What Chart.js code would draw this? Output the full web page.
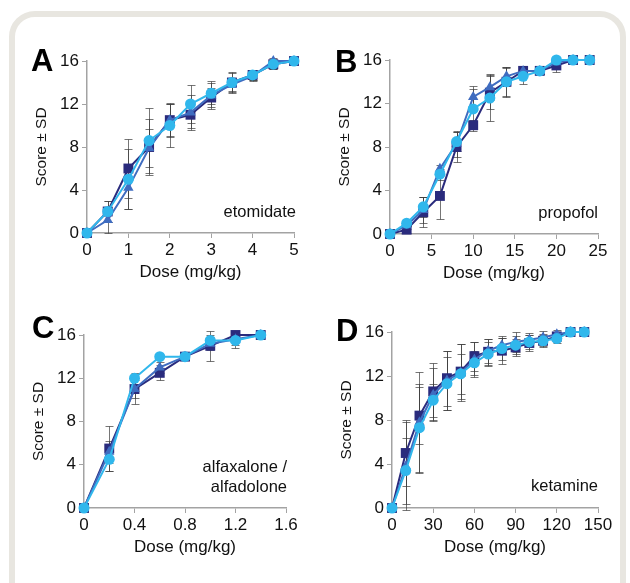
<!DOCTYPE html>
<html lang="en">
<head>
<meta charset="UTF-8">
<title>Anaesthetic dose response</title>
<script src="https://cdn.jsdelivr.net/npm/chart.js@4.4.1/dist/chart.umd.min.js"></script>
<style>
  body {
    margin: 0;
    width: 630px;
    height: 583px;
    overflow: hidden;
    background: #fff;
    position: relative;
    font-family: 'Liberation Sans', Arial, sans-serif;
    color: #111;
  }
  .frame {
    position: absolute;
    left: 9px;
    top: 11px;
    width: 617px;
    height: 640px;
    box-sizing: border-box;
    border: 6px solid #e8e6e0;
    border-radius: 26px;
  }
  canvas { position: absolute; }
  .letter { position: absolute; font-weight: bold; font-size: 31px; line-height: 31px; color: #000; }
  .drug { position: absolute; font-size: 16.5px; line-height: 20px; text-align: right; }
</style>
</head>
<body>
<div class="frame"></div>

<canvas id="chartA"></canvas>
<canvas id="chartB"></canvas>
<canvas id="chartC"></canvas>
<canvas id="chartD"></canvas>

<div class="letter" style="left:31px; top:45px;">A</div>
<div class="letter" style="left:335px; top:46px;">B</div>
<div class="letter" style="left:32px; top:312px;">C</div>
<div class="letter" style="left:336px; top:315px;">D</div>

<div class="drug" style="right:334px; top:201px;">etomidate</div>
<div class="drug" style="right:32px; top:202px;">propofol</div>
<div class="drug" style="right:343px; top:456px;">alfaxalone /<br>alfadolone</div>
<div class="drug" style="right:32px; top:475px;">ketamine</div>

<script>
// ---- data ----
const yTicks = [0, 4, 8, 12, 16];

// A: etomidate
const doseEto = [0, 0.5, 1, 1.5, 2, 2.5, 3, 3.5, 4, 4.5, 5];
const etoSq   = [0, 2, 6, 8, 10.5, 11, 12.6, 14, 14.7, 15.7, 16];
const etoTri  = [0, 1.2, 4.2, 7.9, 10.5, 11.2, 12.8, 13.8, 14.6, 16, 16];
const etoCi   = [0, 2, 5, 8.6, 10, 12, 13, 14, 14.7, 15.7, 16];
const etoSqSd  = [0, 1, 2.7, 2.6, 1.6, 1.2, 0.9, 1, 0.5, 0.4, 0];
const etoTriSd = [0, 1.2, 2, 1.8, 1.5, 1.6, 1.3, 0.6, 0.5, 0.3, 0];
const etoCiSd  = [0, 1, 2.8, 3, 2, 1.8, 1, 0.9, 0.5, 0.4, 0];
const xTicksEto = [0, 1, 2, 3, 4, 5];
const xLabelsEto = ['0', '1', '2', '3', '4', '5'];

// B: propofol
const doseProp = [0, 2, 4, 6, 8, 10, 12, 14, 16, 18, 20, 22, 24];
const propSq   = [0, 0.4, 2, 3.5, 8, 10, 13, 14, 15, 15, 15.5, 16, 16];
const propTri  = [0, 0.8, 2.2, 6, 8.3, 12.6, 13.5, 14.5, 15, 15, 15.8, 16, 16];
const propCi   = [0, 1, 2.5, 5.5, 8.5, 11.5, 12.5, 14, 14.5, 15, 16, 16, 16];
const propSqSd  = [0, 0.3, 1.4, 2.1, 1.4, 0.5, 1.5, 1.4, 0.4, 0.3, 0.6, 0, 0];
const propTriSd = [0, 0.3, 1.2, 0.3, 1.2, 1, 1.2, 0.9, 0.4, 0.3, 0.3, 0, 0];
const propCiSd  = [0, 0.3, 0.9, 0.5, 0.9, 1.8, 2.1, 1.3, 0.7, 0.3, 0.3, 0, 0];
const xTicksProp = [0, 5, 10, 15, 20, 25];
const xLabelsProp = ['0', '5', '10', '15', '20', '25'];

// C: alfaxalone / alfadolone
const doseAlfa = [0, 0.2, 0.4, 0.6, 0.8, 1.0, 1.2, 1.4];
const alfaSq   = [0, 5.5, 11, 12.5, 14, 15, 16, 16];
const alfaTri  = [0, 5.2, 11, 13, 14, 15.2, 15.6, 16];
const alfaCi   = [0, 4.5, 12, 14, 14, 15.5, 15.5, 16];
const alfaSqSd  = [0, 2.1, 1.4, 0.7, 0, 1.4, 0.3, 0];
const alfaTriSd = [0, 1, 0.8, 0.5, 0, 0.6, 0.5, 0];
const alfaCiSd  = [0, 1.1, 0.5, 0, 0, 0.5, 0.7, 0];
const xTicksAlfa = [0, 0.4, 0.8, 1.2, 1.6];
const xLabelsAlfa = ['0', '0.4', '0.8', '1.2', '1.6'];

// D: ketamine
const doseKet = [0, 10, 20, 30, 40, 50, 60, 70, 80, 90, 100, 110, 120, 130, 140];
const ketSq   = [0, 5, 8.4, 10.6, 11.8, 12.4, 13.8, 14.2, 14.3, 14.6, 15, 15.2, 15.6, 16, 16];
const ketTri  = [0, 3.8, 7.8, 10.3, 11.6, 12.3, 13.5, 14.3, 14.8, 15.1, 15.3, 15.5, 15.8, 16, 16];
const ketCi   = [0, 3.4, 7.3, 9.8, 11.3, 12.2, 13.2, 14, 14.5, 14.8, 15.1, 15.2, 15.4, 16, 16];
const ketSqSd  = [0, 3, 2.6, 2.6, 2.5, 2.5, 1.3, 1.2, 1.2, 0.8, 0.7, 0.5, 0.4, 0, 0];
const ketTriSd = [0, 4, 4.6, 2.4, 2.7, 2.6, 1.6, 1.1, 0.8, 0.9, 0.6, 0.6, 0.4, 0, 0];
const ketCiSd  = [0, 3, 4, 1.5, 2.4, 1.8, 1.1, 1.1, 1, 0.8, 0.6, 0.6, 0.4, 0, 0];
const xTicksKet = [0, 30, 60, 90, 120, 150];
const xLabelsKet = ['0', '30', '60', '90', '120', '150'];

// ---- styling ----
const FONT = "'Liberation Sans', Arial, sans-serif";
const AXIS = '#a3a3a3';
const TEXT = '#111';
const NAVY = '#2a2b7d';
const MID = '#3f6cc0';
const CYAN = '#30b7ec';

// draws SD whiskers under the markers, using the chart's own scales
const errorBars = {
    id: 'errorBars',
    beforeDatasetsDraw(chart) {
        const {ctx, scales: {x, y}} = chart;
        ctx.save();
        ctx.strokeStyle = 'rgba(60,60,60,0.7)';
        ctx.lineWidth = 1;
        chart.data.datasets.forEach(ds => {
            ds.data.forEach((p, i) => {
                const sd = ds.sd[i];
                if (!sd) return;
                const px = Math.round(x.getPixelForValue(p.x)) + 0.5;
                const top = Math.round(y.getPixelForValue(p.y + sd)) + 0.5;
                const bot = Math.round(y.getPixelForValue(p.y - sd)) + 0.5;
                ctx.beginPath();
                ctx.moveTo(px, top);
                ctx.lineTo(px, bot);
                ctx.moveTo(px - 4, top);
                ctx.lineTo(px + 4, top);
                ctx.moveTo(px - 4, bot);
                ctx.lineTo(px + 4, bot);
                ctx.stroke();
            });
        });
        ctx.restore();
    }
};

function series(doses, values, sd, color, style, radius, order) {
    return {
        data: doses.map((d, i) => ({x: d, y: values[i]})),
        sd,
        borderColor: color,
        backgroundColor: color,
        borderWidth: 2,
        tension: 0,
        pointStyle: style,
        pointRadius: radius,
        pointBorderWidth: 0,
        clip: false,
        order
    };
}

function panel(id, box, doses, sq, tri, ci, sds, xTicks, xLabels) {
    const canvas = document.getElementById(id);
    canvas.width = box.w;
    canvas.height = box.h;
    canvas.style.left = box.left + 'px';
    canvas.style.top = box.top + 'px';

    return new Chart(canvas, {
        type: 'line',
        data: {
            datasets: [
                series(doses, ci, sds[2], CYAN, 'circle', 5.5, 1),
                series(doses, tri, sds[1], MID, 'triangle', 6, 2),
                series(doses, sq, sds[0], NAVY, 'rect', 7, 3)
            ]
        },
        options: {
            responsive: false,
            animation: false,
            layout: {padding: {top: box.pt, right: box.pr, left: 0, bottom: 0}},
            plugins: {legend: {display: false}, tooltip: {enabled: false}},
            scales: {
                x: {
                    type: 'linear',
                    min: xTicks[0],
                    max: xTicks[xTicks.length - 1],
                    afterBuildTicks: s => { s.ticks = xTicks.map(v => ({value: v})); },
                    afterFit: s => { s.height = box.xh; },
                    grid: {drawOnChartArea: false, tickLength: 5, color: AXIS},
                    border: {color: AXIS, width: 1.5},
                    ticks: {
                        color: TEXT, padding: 2, maxRotation: 0,
                        font: {size: 17, family: FONT},
                        callback: (v, i) => xLabels[i]
                    },
                    title: {
                        display: true, text: 'Dose (mg/kg)', color: TEXT,
                        font: {size: 17, family: FONT},
                        padding: {top: 0, bottom: box.xh - 49.2}
                    }
                },
                y: {
                    min: 0,
                    max: 16,
                    afterBuildTicks: s => { s.ticks = yTicks.map(v => ({value: v})); },
                    afterFit: s => { s.width = box.yw; },
                    grid: {drawOnChartArea: false, tickLength: 5, color: AXIS},
                    border: {color: AXIS, width: 1.5},
                    ticks: {color: TEXT, padding: 3, font: {size: 17, family: FONT}},
                    title: {
                        display: true, text: 'Score ± SD', color: TEXT,
                        font: {size: 15.5, family: FONT},
                        padding: {top: box.yw - 55, bottom: 0}
                    }
                }
            }
        },
        plugins: [errorBars]
    });
}

panel('chartA', {left: 20, top: 40, w: 290, h: 250, pt: 21, pr: 16, yw: 67, xh: 57},
    doseEto, etoSq, etoTri, etoCi, [etoSqSd, etoTriSd, etoCiSd], xTicksEto, xLabelsEto);
panel('chartB', {left: 320, top: 40, w: 300, h: 250, pt: 20, pr: 22, yw: 70, xh: 56},
    doseProp, propSq, propTri, propCi, [propSqSd, propTriSd, propCiSd], xTicksProp, xLabelsProp);
panel('chartC', {left: 20, top: 310, w: 290, h: 255, pt: 25, pr: 24, yw: 64, xh: 57},
    doseAlfa, alfaSq, alfaTri, alfaCi, [alfaSqSd, alfaTriSd, alfaCiSd], xTicksAlfa, xLabelsAlfa);
panel('chartD', {left: 320, top: 310, w: 300, h: 255, pt: 22, pr: 22, yw: 72, xh: 57},
    doseKet, ketSq, ketTri, ketCi, [ketSqSd, ketTriSd, ketCiSd], xTicksKet, xLabelsKet);
</script>
</body>
</html>
